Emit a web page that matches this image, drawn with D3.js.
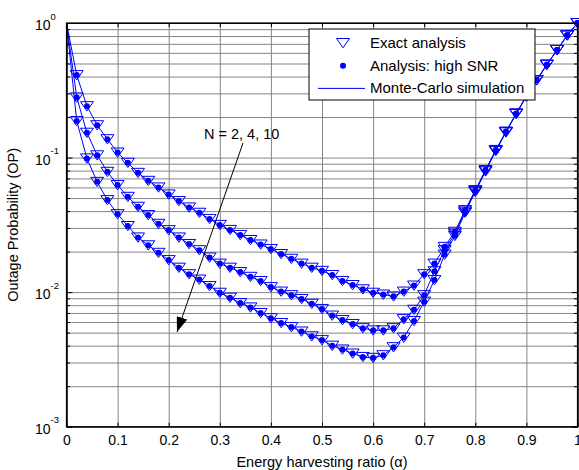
<!DOCTYPE html>
<html>

<head>
  <meta charset="utf-8">
  <style>
    body {
      margin: 0;
      background: #fff;
    }

    svg text {
      font-family: "Liberation Sans", Arial, sans-serif;
      fill: #000;
    }

    .grid line {
      stroke: #858585;
      stroke-width: 1;
    }

    .grid path {
      display: none;
    }

    .axis path,
    .axis line {
      stroke: #000;
    }
  </style>
</head>

<body>
  <svg id="chart" width="579" height="470"></svg>

  <script src="https://d3js.org/d3.v7.min.js"></script>
  <script>
    // energy harvesting ratio (alpha)
    var alpha = [0, 0.02, 0.04, 0.06, 0.08, 0.10, 0.12, 0.14, 0.16, 0.18,
      0.20, 0.22, 0.24, 0.26, 0.28, 0.30, 0.32, 0.34, 0.36, 0.38,
      0.40, 0.42, 0.44, 0.46, 0.48, 0.50, 0.52, 0.54, 0.56, 0.58,
      0.60, 0.62, 0.64, 0.66, 0.68, 0.70, 0.72, 0.74, 0.76, 0.78,
      0.80, 0.82, 0.84, 0.86, 0.88, 0.90, 0.92, 0.94, 0.96, 0.98, 1.00];

    // outage probability, N = 2
    var opN2 = [1, 0.41, 0.241, 0.174, 0.137, 0.109, 0.0915, 0.077, 0.0672, 0.060,
      0.0532, 0.0475, 0.0426, 0.0389, 0.0350, 0.0316, 0.0290, 0.0266, 0.0244, 0.0226,
      0.0209, 0.0192, 0.0177, 0.0163, 0.0152, 0.0144, 0.0134, 0.0121, 0.0113, 0.0105,
      0.0099, 0.0096, 0.0093, 0.0101, 0.0112, 0.0136, 0.0163, 0.0217, 0.0281, 0.0407,
      0.0573, 0.0807, 0.114, 0.156, 0.213, 0.287, 0.377, 0.49, 0.63, 0.81, 1];

    // N = 4
    var opN4 = [1, 0.28, 0.153, 0.104, 0.0784, 0.0625, 0.0511, 0.0431, 0.0374, 0.0322,
      0.0289, 0.0255, 0.0228, 0.0205, 0.0181, 0.0163, 0.0152, 0.0141, 0.0130, 0.0121,
      0.0109, 0.0101, 0.0095, 0.0089, 0.0082, 0.0075, 0.0067, 0.0062, 0.0058, 0.0054,
      0.0052, 0.0052, 0.0054, 0.0063, 0.0074, 0.0095, 0.0143, 0.0205, 0.0272, 0.0398,
      0.0565, 0.080, 0.113, 0.155, 0.212, 0.286, 0.376, 0.49, 0.63, 0.81, 1];

    // N = 10
    var opN10 = [1, 0.187, 0.0986, 0.066, 0.0483, 0.038, 0.031, 0.0255, 0.0223, 0.0196,
      0.0173, 0.0152, 0.0136, 0.0124, 0.0111, 0.0099, 0.0091, 0.0083, 0.0077, 0.0070,
      0.0064, 0.0059, 0.0055, 0.0051, 0.0047, 0.0044, 0.0040, 0.00375, 0.0035, 0.0033,
      0.00325, 0.0034, 0.0039, 0.0046, 0.0061, 0.0085, 0.0123, 0.019, 0.0262, 0.039,
      0.0557, 0.079, 0.112, 0.154, 0.211, 0.285, 0.375, 0.49, 0.63, 0.81, 1];

    var xTicks = [0, 0.1, 0.2, 0.3, 0.4, 0.5, 0.6, 0.7, 0.8, 0.9, 1];
    var yMajor = [1e-3, 1e-2, 1e-1, 1];
    var yExponents = ['-3', '-2', '-1', '0'];
    var yMinor = [2e-3, 3e-3, 4e-3, 5e-3, 6e-3, 7e-3, 8e-3, 9e-3,
      2e-2, 3e-2, 4e-2, 5e-2, 6e-2, 7e-2, 8e-2, 9e-2,
      0.2, 0.3, 0.4, 0.5, 0.6, 0.7, 0.8, 0.9];

    var legendLabels = ['Exact analysis', 'Analysis: high SNR', 'Monte-Carlo simulation'];
    var blue = '#0000ff';

    var plotL = 66.5, plotR = 577.5, plotT = 23, plotB = 426.7;
    var x = d3.scaleLinear().domain([0, 1]).range([plotL, plotR]);
    var y = d3.scaleLog().domain([1e-3, 1]).range([plotB, plotT]);

    var svg = d3.select('#chart');

    // grid
    svg.append('g').attr('class', 'grid')
      .attr('transform', 'translate(0,' + plotB + ')')
      .call(d3.axisBottom(x).tickValues(xTicks.slice(1, -1)).tickSize(-(plotB - plotT)).tickFormat(''));
    svg.append('g').attr('class', 'grid')
      .attr('transform', 'translate(' + plotL + ',0)')
      .call(d3.axisLeft(y).tickValues(yMinor.concat(yMajor.slice(1, -1))).tickSize(-(plotR - plotL)).tickFormat(''));

    // curves
    var series = [opN2, opN4, opN10];
    var line = d3.line()
      .x(function (d) { return x(d[0]); })
      .y(function (d) { return y(d[1]); });

    series.forEach(function (vals) {
      var pts = alpha.map(function (a, i) { return [a, vals[i]]; });
      svg.append('path')
        .datum(pts)
        .attr('d', line)
        .attr('fill', 'none')
        .attr('stroke', blue)
        .attr('stroke-width', 1);

      var m = svg.append('g').selectAll('g')
        .data(pts.slice(1))
        .join('g')
        .attr('transform', function (d) { return 'translate(' + x(d[0]) + ',' + y(d[1]) + ')'; });
      m.append('path')
        .attr('d', 'M-6.5,-4.5L6.5,-4.5L0,4.8Z')
        .attr('fill', 'none')
        .attr('stroke', blue)
        .attr('stroke-width', 1);
      m.append('circle')
        .attr('r', 3)
        .attr('fill', blue);
    });

    // axes
    svg.append('g').attr('class', 'axis')
      .attr('transform', 'translate(0,' + plotB + ')')
      .call(d3.axisBottom(x).tickValues(xTicks).tickSizeInner(-4).tickSizeOuter(0).tickPadding(8)
        .tickFormat(function (d) { return d; }))
      .call(function (g) {
        g.selectAll('text').attr('font-size', 14).attr('font-family', '"Liberation Sans", Arial, sans-serif');
      });
    svg.append('g').attr('class', 'axis')
      .attr('transform', 'translate(0,' + plotT + ')')
      .call(d3.axisTop(x).tickValues(xTicks).tickSizeInner(-4).tickSizeOuter(0).tickFormat(''));

    var yl = svg.append('g').attr('class', 'axis')
      .attr('transform', 'translate(' + plotL + ',0)')
      .call(d3.axisLeft(y).tickValues(yMajor).tickSizeInner(-6).tickSizeOuter(0).tickFormat(''));
    svg.append('g').attr('class', 'axis')
      .attr('transform', 'translate(' + plotL + ',0)')
      .call(d3.axisLeft(y).tickValues(yMinor).tickSizeInner(-3.5).tickSizeOuter(0).tickFormat(''));
    svg.append('g').attr('class', 'axis')
      .attr('transform', 'translate(' + plotR + ',0)')
      .call(d3.axisRight(y).tickValues(yMajor).tickSizeInner(-6).tickSizeOuter(0).tickFormat(''));
    svg.append('g').attr('class', 'axis')
      .attr('transform', 'translate(' + plotR + ',0)')
      .call(d3.axisRight(y).tickValues(yMinor).tickSizeInner(-3.5).tickSizeOuter(0).tickFormat(''));

    yl.selectAll('.tick').each(function (d, i) {
      var t = d3.select(this);
      t.append('text')
        .attr('x', -16)
        .attr('y', 6.5)
        .attr('text-anchor', 'end')
        .attr('font-size', 14)
        .attr('font-family', '"Liberation Sans", Arial, sans-serif')
        .attr('fill', '#000')
        .text('10');
      t.append('text')
        .attr('x', -16)
        .attr('y', -4)
        .attr('text-anchor', 'start')
        .attr('font-size', 9.5)
        .attr('font-family', '"Liberation Sans", Arial, sans-serif')
        .attr('fill', '#000')
        .text(yExponents[i]);
    });

    // frame
    svg.append('rect')
      .attr('x', plotL).attr('y', plotT)
      .attr('width', plotR - plotL).attr('height', plotB - plotT)
      .attr('fill', 'none').attr('stroke', '#000').attr('stroke-width', 1.2);

    // axis labels
    svg.append('text')
      .attr('x', (plotL + plotR) / 2)
      .attr('y', 467)
      .attr('text-anchor', 'middle')
      .attr('font-size', 14.5)
      .text('Energy harvesting ratio (α)');
    svg.append('text')
      .attr('transform', 'translate(18,' + (plotT + plotB) / 2 + ') rotate(-90)')
      .attr('text-anchor', 'middle')
      .attr('font-size', 14.5)
      .text('Outage Probability (OP)');

    // annotation
    svg.append('defs').append('marker')
      .attr('id', 'arrowhead')
      .attr('viewBox', '0 0 15 11')
      .attr('refX', 15).attr('refY', 5.5)
      .attr('markerWidth', 15).attr('markerHeight', 11)
      .attr('markerUnits', 'userSpaceOnUse')
      .attr('orient', 'auto')
      .append('path')
      .attr('d', 'M0,0L15,5.5L0,11Z')
      .attr('fill', '#000');
    svg.append('line')
      .attr('x1', 243).attr('y1', 143)
      .attr('x2', 177).attr('y2', 332)
      .attr('stroke', '#000').attr('stroke-width', 1)
      .attr('marker-end', 'url(#arrowhead)');
    svg.append('text')
      .attr('x', 204).attr('y', 139)
      .attr('font-size', 14.5)
      .text('N = 2, 4, 10');

    // legend
    var lg = svg.append('g');
    lg.append('rect')
      .attr('x', 309).attr('y', 29).attr('width', 226).attr('height', 71)
      .attr('fill', '#fff').attr('stroke', '#000').attr('stroke-width', 1);
    var rows = lg.selectAll('g.row')
      .data(legendLabels)
      .join('g')
      .attr('class', 'row')
      .attr('transform', function (d, i) { return 'translate(0,' + (43 + i * 22.7) + ')'; });
    rows.append('text')
      .attr('x', 370).attr('y', 5)
      .attr('font-size', 15)
      .text(function (d) { return d; });
    rows.filter(function (d, i) { return i === 0; }).append('path')
      .attr('d', 'M336.5,-4.5L349.5,-4.5L343,4.8Z')
      .attr('fill', 'none').attr('stroke', blue);
    rows.filter(function (d, i) { return i === 1; }).append('circle')
      .attr('cx', 343).attr('r', 3).attr('fill', blue);
    rows.filter(function (d, i) { return i === 2; }).append('line')
      .attr('x1', 318).attr('x2', 365)
      .attr('stroke', blue).attr('stroke-width', 1);
  </script>
</body>

</html>
